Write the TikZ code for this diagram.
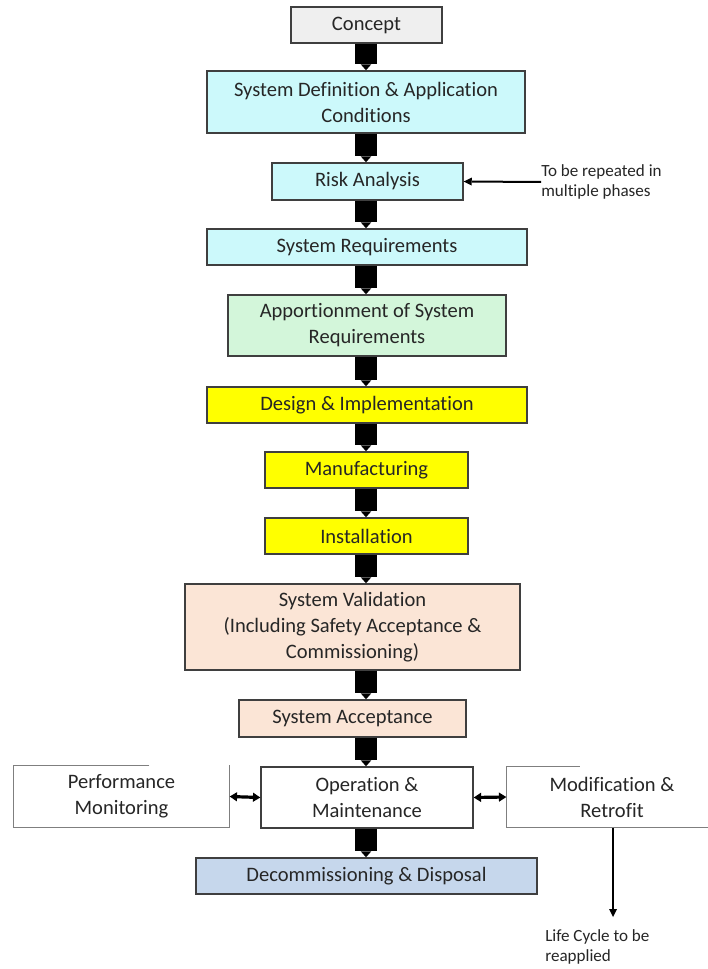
\documentclass[tikz,border=0pt]{standalone}
\usepackage{fontspec}
\setmainfont{Carlito}[Ligatures=NoCommon]
\usetikzlibrary{arrows.meta}

\definecolor{edgegray}{HTML}{3F3F3F}
\definecolor{lightedge}{HTML}{7F7F7F}
\definecolor{conceptfill}{HTML}{EFEFEF}
\definecolor{cyanfill}{HTML}{CCF9FB}
\definecolor{greenfill}{HTML}{D3F6DA}
\definecolor{yellowfill}{HTML}{FFFF00}
\definecolor{peachfill}{HTML}{FBE5D6}
\definecolor{bluefill}{HTML}{C6D7EC}
\definecolor{textgray}{HTML}{262626}

\tikzset{
  wh/.style 2 args={minimum width=#1*0.75pt, minimum height=#2*0.75pt},
  stage/.style={draw=edgegray, line width=1.1pt, align=center, inner sep=0pt,
    text=textgray, font=\fontsize{15.4}{19.5}\selectfont},
  openstage/.style={stage, draw=none},
  openedge/.style={draw=lightedge, line width=0.9pt},
  note/.style={align=left, inner sep=0pt, text=textgray,
    font=\fontsize{12.8}{15.5}\selectfont},
  blockarrow/.style={line width=16.5pt, draw=black,
    -{Triangle[width=8pt, length=4.5pt, line width=0pt]}},
  thinarrow/.style={line width=1.5pt, draw=black,
    -{Triangle[width=6pt, length=6pt, line width=0pt]}},
  twoway/.style={line width=2.4pt, draw=black,
    {Triangle[width=7pt, length=5.5pt, line width=0pt]}-{Triangle[width=7pt, length=5.5pt, line width=0pt]}}
}

\begin{document}
\begin{tikzpicture}[x=0.75pt, y=-0.75pt]
  \useasboundingbox (0,0) rectangle (707,969);
  \fill[white] (0,0) rectangle (707,969);

  % vertical spine of the main flow
  \coordinate (spine) at (366,0);

  % main sequence of life-cycle phases
  \node[stage, fill=conceptfill, wh={151}{36}] (concept) at (366.5,25) {Concept};
  \node[stage, fill=cyanfill, wh={318}{62}] (sysdef) at (366,102)
    {System Definition \& Application\\Conditions};
  \node[stage, fill=cyanfill, wh={191}{37}] (risk) at (367.5,181.5) {Risk Analysis};
  \node[stage, fill=cyanfill, wh={320}{36}] (sysreq) at (367,247) {System Requirements};
  \node[stage, fill=greenfill, wh={278}{61}] (apport) at (367,325.5)
    {Apportionment of System\\Requirements};
  \node[stage, fill=yellowfill, wh={320}{36}] (design) at (367,405) {Design \& Implementation};
  \node[stage, fill=yellowfill, wh={203}{36}] (manuf) at (366.5,470) {Manufacturing};
  \node[stage, fill=yellowfill, wh={203}{36}] (install) at (366.5,536) {Installation};
  \node[stage, fill=peachfill, wh={335}{86}] (valid) at (352.5,627)
    {System Validation\\(Including Safety Acceptance \&\\Commissioning)};
  \node[stage, fill=peachfill, wh={227}{37}] (accept) at (352.5,718.5) {System Acceptance};
  \node[stage, fill=white, wh={212}{61}] (om) at (367,797.5) {Operation \&\\Maintenance};
  \node[stage, fill=bluefill, wh={341}{36}] (decom) at (366.5,876) {Decommissioning \& Disposal};

  % side phases with open outlines
  \node[openstage, wh={215}{61}] (perf) at (121.5,796.5) {Performance\\Monitoring};
  \node[openstage, wh={210}{60}] (mod) at (612,797) {Modification \&\\Retrofit};
  \draw[openedge] ([xshift=102pt]perf.north west) -- (perf.north west)
    -- (perf.south west) -- (perf.south east) -- (perf.north east);
  \draw[openedge] ([xshift=55pt]mod.north west) -- (mod.north west)
    -- (mod.south west) -- (mod.south east);

  % annotations
  \node[note, anchor=west] (repeat) at (541,182) {To be repeated in\\multiple phases};
  \node[note, anchor=west] (reapply) at (545,947) {Life Cycle to be\\reapplied};
  \coordinate (lcend) at (613,917);

  % block arrows along the spine
  \foreach \a/\b in {concept/sysdef, sysdef/risk, risk/sysreq, sysreq/apport,
      apport/design, design/manuf, manuf/install, install/valid,
      valid/accept, accept/om, om/decom}
    \draw[blockarrow] (\a.south -| spine) -- (\b.north -| spine);

  % side connectors
  \draw[thinarrow] (repeat.west) -- (risk.east);
  \draw[twoway] (perf.east) -- (om.west);
  \draw[twoway] (om.east) -- (mod.west);
  \draw[thinarrow] (mod.south -| lcend) -- (lcend);
\end{tikzpicture}
\end{document}
